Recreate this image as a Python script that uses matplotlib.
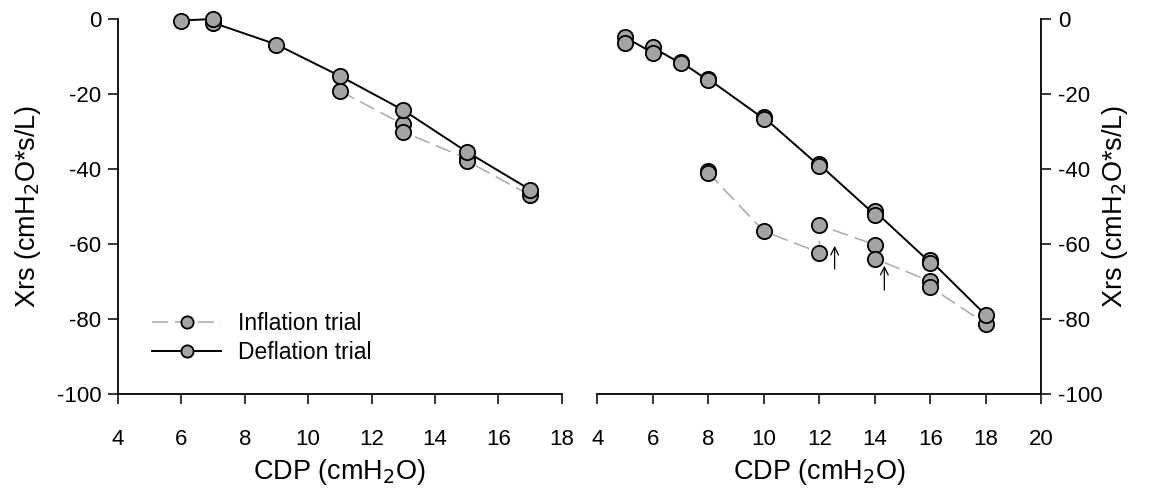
import matplotlib
matplotlib.use("Agg")
import matplotlib.pyplot as plt

plt.rcParams['font.family'] = ['Liberation Sans', 'DejaVu Sans']
plt.rcParams['axes.unicode_minus'] = False

# ---- data ----
# Left panel
left_infl_x = [11, 13, 13, 15, 15, 17]
left_infl_y = [-19.2, -28.1, -30.1, -37.2, -37.8, -47.0]
left_defl_x = [17, 15, 13, 11, 9, 7, 7, 6]
left_defl_y = [-45.5, -35.4, -24.3, -15.2, -6.8, -1.0, 0.0, -0.4]

# Right panel
right_infl_x = [8, 8, 10, 12, 12, 14, 14, 16, 16, 18]
right_infl_y = [-40.6, -41.0, -56.6, -62.3, -55.0, -60.2, -63.9, -70.0, -71.5, -81.3]
right_defl_x = [18, 16, 16, 14, 14, 12, 12, 10, 10, 8, 8, 7, 7, 6, 6, 5, 5]
right_defl_y = [-79.0, -64.4, -65.0, -51.3, -52.2, -38.8, -39.2, -26.2, -26.6,
                -16.0, -16.4, -11.4, -11.8, -7.6, -9.0, -4.9, -6.5]

# arrows (x, y_tail, y_head) in the right panel
arrow_x = [12.55, 14.34]
arrow_tail = [-66.7, -72.3]
arrow_head = [-60.5, -65.8]

left_xticks = [4, 6, 8, 10, 12, 14, 16, 18]
right_xticks = [4, 6, 8, 10, 12, 14, 16, 18, 20]
yticks = [0, -20, -40, -60, -80, -100]

xlabel = "CDP (cmH$_2$O)"
ylabel = "Xrs (cmH$_2$O*s/L)"

# ---- style ----
fill = '#a4a4a4'
infl_kw = dict(color='#aaaaaa', lw=1.1, dashes=(10.5, 4.5), marker='o', ms=11,
               mfc=fill, mec='black', mew=1.3, zorder=2)
defl_kw = dict(color='black', lw=1.4, ls='-', marker='o', ms=11,
               mfc=fill, mec='black', mew=1.3, zorder=3)

fig = plt.figure(figsize=(11.49, 4.91), dpi=100)
axL = fig.add_axes([0.1027, 0.1976, 0.3862, 0.7637])
axR = fig.add_axes([0.5198, 0.1976, 0.3866, 0.7637])

tick_fs = 16
lab_fs = 19.5

for ax in (axL, axR):
    ax.set_ylim(-100, 0)
    ax.set_yticks(yticks)
    ax.tick_params(direction='out', length=7, width=1.1, labelsize=tick_fs)
    ax.tick_params(axis='x', pad=18)
    ax.tick_params(axis='y', pad=5)
    for s in ax.spines.values():
        s.set_linewidth(1.3)
    ax.set_xlabel(xlabel, fontsize=lab_fs, labelpad=5)

axL.set_ylabel(ylabel, fontsize=lab_fs, labelpad=10)
axR.set_ylabel(ylabel, fontsize=lab_fs, labelpad=-2)

# Left
axL.plot(left_infl_x, left_infl_y, label='Inflation trial', **infl_kw)
axL.plot(left_defl_x, left_defl_y, label='Deflation trial', **defl_kw)
axL.set_xlim(4, 18)
axL.set_xticks(left_xticks)
axL.spines['top'].set_visible(False)
axL.spines['right'].set_visible(False)

leg = axL.legend(loc='upper left', bbox_to_anchor=(0.077, 0.219), frameon=False,
                 fontsize=16.5, handlelength=3.0, handletextpad=0.75,
                 labelspacing=0.25, borderpad=0, borderaxespad=0, markerscale=0.8)

# Right
axR.plot(right_infl_x, right_infl_y, **infl_kw)
axR.plot(right_defl_x, right_defl_y, **defl_kw)
for xa, yt, yh in zip(arrow_x, arrow_tail, arrow_head):
    axR.annotate('', xy=(xa, yh), xytext=(xa, yt),
                 arrowprops=dict(arrowstyle='->', lw=0.9, color='black',
                                 mutation_scale=14, shrinkA=0, shrinkB=0))
axR.set_xlim(4, 20)
axR.set_xticks(right_xticks)
axR.spines['top'].set_visible(False)
axR.spines['left'].set_visible(False)
axR.yaxis.tick_right()
axR.yaxis.set_label_position('right')

for line in axL.lines + axR.lines:
    line.set_clip_on(False)

fig.savefig('out.png', dpi=100)
